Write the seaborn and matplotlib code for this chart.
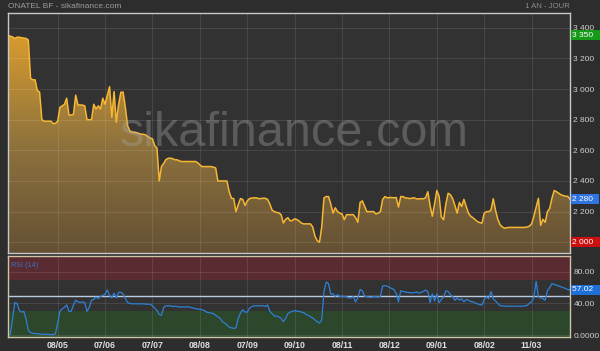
import numpy as np
import pandas as pd
import matplotlib
matplotlib.use("Agg")
import matplotlib.pyplot as plt
import seaborn as sns
from matplotlib.colors import LinearSegmentedColormap
from matplotlib.patches import PathPatch

# ---------------- data ----------------
price = [
    3350, 3345, 3340, 3330, 3338, 3338, 3335, 3332, 3330,
    3320, 3070, 3060, 3060, 2990, 2980,
    2800, 2790, 2790, 2790, 2790, 2775, 2775, 2790,
    2880, 2890, 2900, 2940, 2830, 2830, 2835, 2960,
    2896, 2896, 2895, 2890, 2800, 2800, 2800, 2900,
    2870, 2890, 2870, 2940, 2900, 2960, 3015, 2815,
    2983, 2783, 2900, 2979, 2980, 2880, 2760, 2725,
    2718, 2718, 2715, 2710, 2705, 2705, 2700, 2690,
    2680, 2675, 2630, 2615, 2400, 2495, 2515, 2540,
    2548, 2549, 2545, 2538, 2538, 2530, 2527, 2527,
    2527, 2527, 2527, 2527, 2527, 2520, 2505, 2494,
    2494, 2494, 2494, 2494, 2490, 2485, 2400, 2400,
    2400, 2400, 2400, 2330, 2287, 2285, 2200, 2245,
    2285, 2280, 2240, 2270, 2285, 2288, 2290, 2290,
    2285, 2285, 2287, 2287, 2280, 2250, 2210, 2200,
    2195, 2192, 2180, 2125, 2150, 2160, 2140, 2142,
    2153, 2148, 2138, 2125, 2120, 2120, 2120, 2120,
    2100, 2040, 2010, 2000, 2100, 2290, 2298, 2298,
    2250, 2190, 2225, 2200, 2190, 2185, 2147, 2180,
    2180, 2180, 2180, 2160, 2130, 2260, 2270, 2235,
    2200, 2200, 2200, 2200, 2185, 2190, 2200, 2280,
    2298, 2290, 2292, 2292, 2290, 2292, 2230, 2298,
    2298, 2290, 2288, 2285, 2288, 2290, 2283, 2283,
    2285, 2283, 2290, 2330, 2240, 2170, 2250, 2338,
    2300, 2165, 2147, 2250, 2320, 2310, 2285, 2240,
    2190, 2260, 2234, 2280, 2234, 2190, 2170, 2160,
    2147, 2135, 2128, 2125, 2190, 2200, 2200, 2210,
    2284, 2210, 2150, 2115, 2100, 2092, 2095, 2097,
    2097, 2097, 2097, 2097, 2097, 2097, 2097, 2100,
    2105, 2120, 2170, 2230, 2287, 2110, 2150, 2130,
    2200, 2220, 2287, 2338, 2330, 2320, 2310, 2305,
    2300, 2300, 2280,
]

rsi = [
    1, 1, 20, 41, 40, 31, 29, 30, 20, 6,
    3, 2, 2, 1.5, 1.5, 1, 1, 1, 1, 0.5,
    0.5, 1.5, 15, 30, 33, 35, 38, 30, 30, 38,
    44, 42, 41, 42, 41, 30, 35, 44, 45, 48,
    46, 49, 50, 52, 57, 50, 47, 53, 47, 54,
    54, 52, 46, 41, 40, 39.5, 39.5, 39.5, 39.5, 39.5,
    39.3, 39, 39, 39, 37, 34, 31, 26, 25, 35,
    37, 37, 37, 36, 36.5, 36, 35.5, 35.5, 35.5, 35.5,
    35.5, 35, 34, 33.5, 33, 32.5, 32, 31, 29, 28,
    28, 27, 25, 23, 21, 17, 15, 13, 10, 9,
    8.5, 9, 21, 28, 32, 29, 29, 34, 36, 37,
    37, 37, 37, 37, 36, 38, 30, 27, 24, 24,
    23, 21, 17, 21, 27, 29, 30, 31, 30, 30,
    29, 28.5, 26, 25, 23, 21.5, 19, 17, 15, 19,
    55, 67, 65, 52, 52, 49, 51, 48.5, 49, 49,
    48.5, 47, 47, 48.5, 42, 47, 57.6, 56, 49, 48.5,
    48, 48, 48.5, 48.5, 48, 49, 62, 62.5, 62, 60,
    59, 57.5, 53, 42, 56, 55, 54.5, 54, 53.5, 53.5,
    53.5, 54.5, 53, 54, 55, 57, 55, 41, 52, 43,
    52, 41, 45, 48, 56, 55, 51, 48.5, 44, 47,
    44, 46, 42, 45, 44, 42.5, 42, 40.5, 39.5, 38.5,
    38, 45, 48.5, 46, 55, 46, 43, 40, 37, 37,
    36.5, 36.5, 36.5, 36.5, 36.5, 36.5, 36.5, 36.5, 36.5, 37,
    37.5, 40, 42, 48, 68, 48, 47, 46, 44, 56,
    60, 65, 64, 63, 62, 61, 60, 59, 57.5, 57.02,
]

date_labels = ["08/05", "07/06", "07/07", "08/08", "07/09", "09/10",
               "08/11", "08/12", "09/01", "08/02", "11/03"]
date_tick_index = [22, 43, 64, 85, 106, 127, 148, 169, 190, 211, 232]
price_ticks = [2200, 2400, 2600, 2800, 3000, 3200, 3400]
rsi_ticks = [0, 40, 80]
rsi_tick_labels = ["0.0000", "40.00", "80.00"]
price_max, price_min, price_last = 3350, 2000, 2280
rsi_last = 57.02

df = pd.DataFrame({"day": np.arange(len(price)), "price": price, "rsi": rsi})

# ---------------- style ----------------
sns.set_theme(style="dark")
BG = "#2d2d2d"
AX_BG = "#323232"
plt.rcParams["font.family"] = ["Liberation Sans", "DejaVu Sans"]

fig = plt.figure(figsize=(6.0, 3.51), dpi=100, facecolor=BG)
W, H = 600, 351
ax = fig.add_axes([8 / W, 1 - 253 / H, 562 / W, 240 / H])
axr = fig.add_axes([8 / W, 1 - 337 / H, 562 / W, 81 / H])

YMIN, YMAX = 1930, 3496
XMIN, XMAX = 0, len(price) - 1

for a in (ax, axr):
    a.set_facecolor(AX_BG)
    for s in a.spines.values():
        s.set_linewidth(1.0)
        s.set_zorder(8)
    a.set_xlim(XMIN, XMAX)
    a.set_xticks(date_tick_index)
    a.tick_params(length=0)

for s in ax.spines.values():
    s.set_color("#c8c8c8")
for s in axr.spines.values():
    s.set_color("#cfc6a8")

# ---- price panel ----
poly = ax.fill_between(df["day"], df["price"], YMIN, color="none", linewidth=0)
patch = PathPatch(poly.get_paths()[0], transform=ax.transData,
                  facecolor="none", edgecolor="none")
ax.add_patch(patch)
cmap = LinearSegmentedColormap.from_list("gold", ["#645034", "#8f733d", "#d99c2e"])
grad = np.linspace(0, 1, 256).reshape(-1, 1)
im = ax.imshow(grad, extent=[XMIN, XMAX, YMIN, 3360], aspect="auto",
               cmap=cmap, origin="lower", zorder=1, interpolation="bilinear")
im.set_clip_path(patch)

sns.lineplot(data=df, x="day", y="price", ax=ax, color="#f7b733",
             linewidth=1.1, zorder=3)
ax.set_xlim(XMIN, XMAX)
ax.set_ylim(YMIN, YMAX)
ax.set_xlabel("")
ax.set_ylabel("")
ax.set_xticklabels([])
ax.set_yticks(price_ticks + [2000])
ax.yaxis.tick_right()
ax.set_yticklabels([f"{v:,}".replace(",", " ") for v in price_ticks] + [""],
                   color="#d0d0d0", fontsize=6.0)
ax.tick_params(axis="y", pad=2.5)
ax.grid(True, color="white", alpha=0.1, linewidth=0.8, zorder=2)
ax.set_axisbelow(False)
for gl in ax.get_xgridlines() + ax.get_ygridlines():
    gl.set_zorder(2)

ax.text(0.51, 0.446, "sikafinance.com", transform=ax.transAxes,
        ha="center", va="baseline", fontsize=35, color="#a8a8a8",
        alpha=0.36, zorder=5)

def box_label(a, yval, txt, fc):
    a.text(1.004, yval, txt, transform=a.get_yaxis_transform(), ha="left",
           va="center", fontsize=6.0, color="white",
           bbox=dict(boxstyle="square,pad=0.18", fc=fc, ec="none"),
           clip_on=False, zorder=10)

box_label(ax, price_max, "3 350  ", "#159a1a")
box_label(ax, price_last, "2 280  ", "#2f74e0")
box_label(ax, price_min, "2 000  ", "#cc0f0f")

# ---- RSI panel ----
axr.axhspan(70, 100, color="#5a2b30", zorder=0.5, linewidth=0)
axr.axhspan(-2.5, 30, color="#2c472c", zorder=0.5, linewidth=0)
axr.axhline(50, color="#b9cbe2", linewidth=1.0, zorder=2)
sns.lineplot(data=df, x="day", y="rsi", ax=axr, color="#2f80d6",
             linewidth=0.9, zorder=3)
axr.set_xlim(XMIN, XMAX)
axr.set_ylim(-2.5, 100)
axr.set_xlabel("")
axr.set_ylabel("")
axr.set_xticklabels(date_labels, color="#e0e0e0", fontsize=6.3,
                    fontweight="bold")
axr.tick_params(axis="x", pad=3)
axr.set_yticks(rsi_ticks)
axr.yaxis.tick_right()
axr.set_yticklabels(rsi_tick_labels, color="#d0d0d0", fontsize=6.0)
axr.tick_params(axis="y", pad=2.5)
axr.grid(True, color="white", alpha=0.1, linewidth=0.8)
for gl in axr.get_xgridlines() + axr.get_ygridlines():
    gl.set_zorder(1)
box_label(axr, rsi_last, "57.02  ", "#1f6fd8")
axr.text(0.006, 0.93, "RSI (14)", transform=axr.transAxes, ha="left",
         va="top", fontsize=5.2, color="#3b72c4", zorder=6)

# ---- titles ----
fig.text(8 / W, 1 - 6 / H, "ONATEL BF - sikafinance.com", ha="left",
         va="center", fontsize=6.0, color="#9c9c9c")
fig.text(570 / W, 1 - 6 / H, "1 AN - JOUR", ha="right", va="center",
         fontsize=5.6, color="#8c8c8c")

fig.savefig("out.png", dpi=100, facecolor=BG)
